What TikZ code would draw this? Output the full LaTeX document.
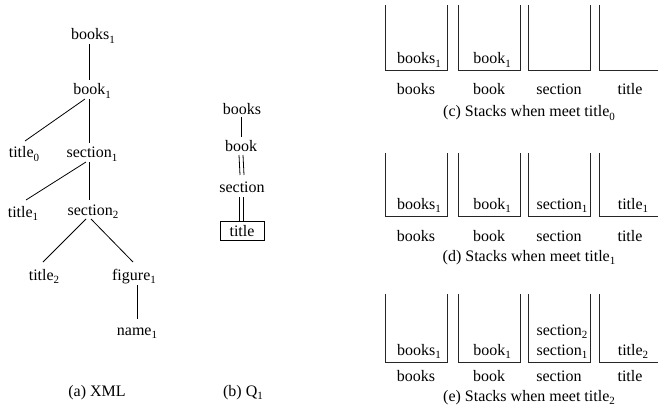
\documentclass[tikz,border=0pt]{standalone}
\usepackage{fontspec}
\setmainfont{Liberation Serif}
\newcommand{\sbs}[1]{\raisebox{-3.2pt}{\fontsize{11}{11}\selectfont #1}}
\begin{document}
\begin{tikzpicture}[x=1pt,y=-1pt,
  font=\fontsize{16}{19}\selectfont,
  lab/.style={anchor=base, inner sep=0pt},
  edge/.style={line width=0.8pt},
  wall/.style={line width=1pt, draw=black!85}]
\useasboundingbox (0,0) rectangle (658,406);

% (a) XML tree
\node[lab] (books1) at (93,40) {books\sbs{1}};
\node[lab] (book1) at (92,95) {book\sbs{1}};
\node[lab] (title0) at (24,158) {title\sbs{0}};
\node[lab] (section1) at (92,158) {section\sbs{1}};
\node[lab] (title1) at (23,217) {title\sbs{1}};
\node[lab] (section2) at (93,215) {section\sbs{2}};
\node[lab] (title2) at (44,280) {title\sbs{2}};
\node[lab] (figure1) at (134,280) {figure\sbs{1}};
\node[lab] (name1) at (137,335) {name\sbs{1}};

\draw[edge] ([shift={(-4,4)}]books1.base) -- ([shift={(-3,-15)}]book1.base);
\draw[edge] ([shift={(-7,4)}]book1.base) -- ([shift={(1,-17)}]title0.base);
\draw[edge] ([shift={(-3,4)}]book1.base) -- ([shift={(-3,-15)}]section1.base);
\draw[edge] ([shift={(-6,4)}]section1.base) -- ([shift={(3,-17)}]title1.base);
\draw[edge] ([shift={(-3,4)}]section1.base) -- ([shift={(-4,-15)}]section2.base);
\draw[edge] ([shift={(-7,4)}]section2.base) -- ([shift={(-1,-18)}]title2.base);
\draw[edge] ([shift={(-2,4)}]section2.base) -- ([shift={(-1,-18)}]figure1.base);
\draw[edge] ([shift={(3,5)}]figure1.base) -- ([shift={(0,-16)}]name1.base);

\node[lab] (capa) at (97,396) {(a) XML};

% (b) Q1
\node[lab] (qbooks) at (242,115) {books};
\node[lab] (qbook) at (241,152) {book};
\node[lab] (qsection) at (242,193) {section};
\node[draw, line width=0.8pt, minimum width=44pt, minimum height=19pt, inner sep=0pt] (qtitle) at (242,231) {title};
\draw[edge] ([shift={(-1,2)}]qbooks.base) -- ([shift={(0,-15)}]qbook.base);
\draw[edge] ([shift={(-2,3)}]qbook.base) -- ([shift={(-2,-18)}]qsection.base);
\draw[edge] ([shift={(2,3)}]qbook.base) -- ([shift={(2,-18)}]qsection.base);
\draw[edge] ([shift={(-3,4)}]qsection.base) -- ([xshift=-3pt]qtitle.north);
\draw[edge] ([shift={(1,4)}]qsection.base) -- ([xshift=1pt]qtitle.north);
\node[lab] (capb) at (243,396) {(b) Q\sbs{1}};

% stacks
\foreach \t/\b/\lb/\p in {5/71/95/c, 153/216/241/d, 294/362/381/e} {
  \foreach \l/\r/\n/\k in {385/447/books/1, 458/520/book/2, 528/590/section/3, 599/661/title/4} {
    \draw[wall] (\l,\t) -- (\l,\b) -- (\r,\b) -- (\r,\t);
    \node[lab] (lab\p\k) at ({(\l+\r)/2},\lb) {\n};
  }
}

% (c)
\node[lab] (c1) at (419,64) {books\sbs{1}};
\node[lab] (c2) at (492,64) {book\sbs{1}};
\node[lab] (capc) at (529,117) {(c) Stacks when meet title\sbs{0}};

% (d)
\node[lab] (d1) at (419,209) {books\sbs{1}};
\node[lab] (d2) at (492,209) {book\sbs{1}};
\node[lab] (d3) at (562,209) {section\sbs{1}};
\node[lab] (d4) at (633,209) {title\sbs{1}};
\node[lab] (capd) at (529,261) {(d) Stacks when meet title\sbs{1}};

% (e)
\node[lab] (e1) at (419,355) {books\sbs{1}};
\node[lab] (e2) at (492,355) {book\sbs{1}};
\node[lab] (e3) at (562,355) {section\sbs{1}};
\node[lab] (e3b) at (562,335) {section\sbs{2}};
\node[lab] (e4) at (633,355) {title\sbs{2}};
\node[lab] (cape) at (529,401) {(e) Stacks when meet title\sbs{2}};
\end{tikzpicture}
\end{document}
